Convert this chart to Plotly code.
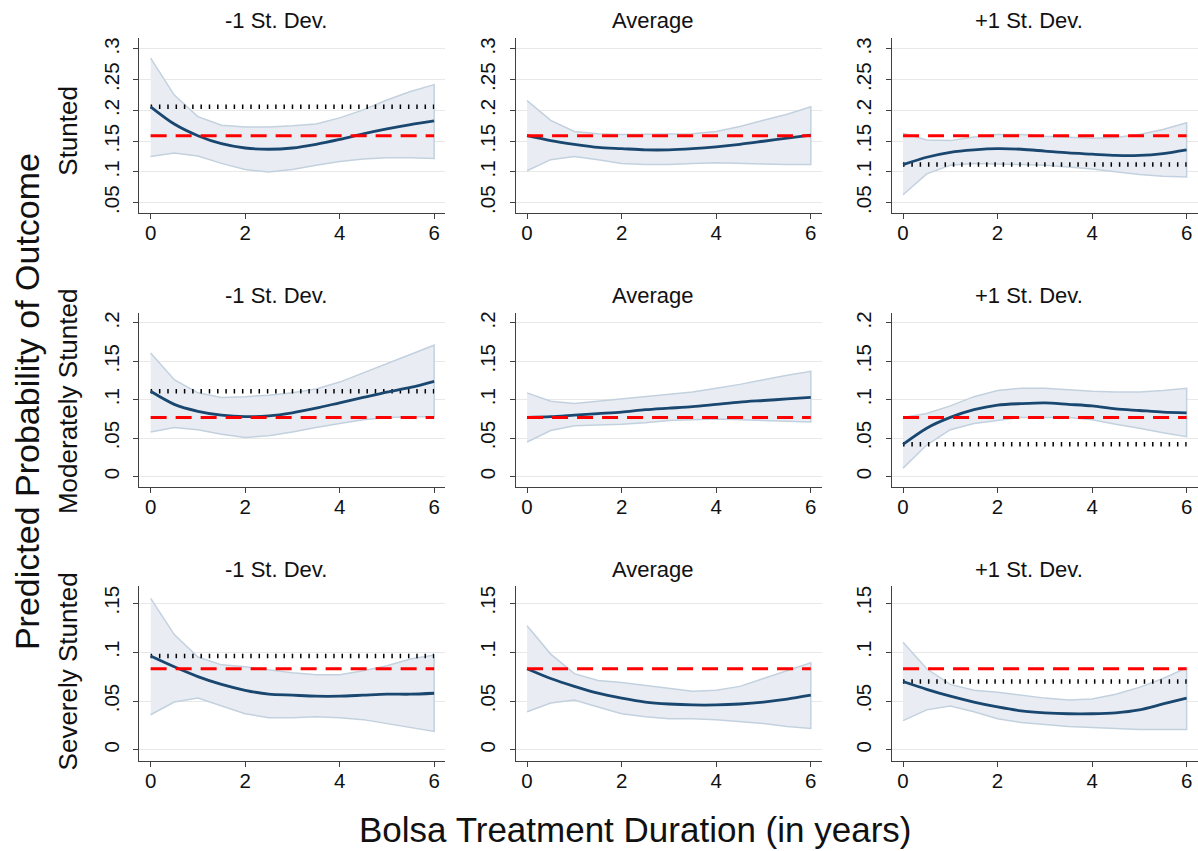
import plotly.graph_objects as go

# ---------------- data ----------------
years = [0, 0.5, 1, 1.5, 2, 2.5, 3, 3.5, 4, 4.5, 5, 5.5, 6]

row_labels = ["Stunted", "Moderately Stunted", "Severely Stunted"]
col_titles = ["-1 St. Dev.", "Average", "+1 St. Dev."]

# Stunted
stunted_m1_mid = [0.206, 0.178, 0.159, 0.146, 0.139, 0.137, 0.139, 0.145, 0.153, 0.162, 0.170, 0.177, 0.183]
stunted_m1_hi = [0.285, 0.225, 0.190, 0.176, 0.173, 0.173, 0.175, 0.178, 0.188, 0.201, 0.217, 0.231, 0.242]
stunted_m1_lo = [0.125, 0.131, 0.126, 0.114, 0.104, 0.100, 0.104, 0.111, 0.117, 0.121, 0.123, 0.123, 0.122]
stunted_av_mid = [0.159, 0.151, 0.145, 0.140, 0.138, 0.136, 0.136, 0.138, 0.141, 0.145, 0.150, 0.155, 0.160]
stunted_av_hi = [0.216, 0.184, 0.166, 0.162, 0.161, 0.161, 0.161, 0.162, 0.166, 0.174, 0.184, 0.194, 0.206]
stunted_av_lo = [0.102, 0.120, 0.125, 0.120, 0.114, 0.112, 0.112, 0.114, 0.115, 0.114, 0.113, 0.112, 0.112]
stunted_p1_mid = [0.112, 0.124, 0.132, 0.136, 0.138, 0.137, 0.134, 0.131, 0.129, 0.127, 0.127, 0.130, 0.136]
stunted_p1_hi = [0.163, 0.152, 0.151, 0.157, 0.161, 0.161, 0.158, 0.156, 0.155, 0.156, 0.161, 0.169, 0.180]
stunted_p1_lo = [0.063, 0.097, 0.111, 0.114, 0.113, 0.112, 0.111, 0.108, 0.105, 0.101, 0.096, 0.093, 0.092]

# Moderately stunted
moderate_m1_mid = [0.111, 0.094, 0.085, 0.080, 0.078, 0.079, 0.083, 0.089, 0.096, 0.103, 0.110, 0.116, 0.124]
moderate_m1_hi = [0.161, 0.126, 0.109, 0.103, 0.104, 0.106, 0.109, 0.114, 0.123, 0.135, 0.148, 0.160, 0.171]
moderate_m1_lo = [0.058, 0.064, 0.061, 0.055, 0.051, 0.053, 0.058, 0.064, 0.069, 0.074, 0.077, 0.078, 0.078]
moderate_av_mid = [0.077, 0.078, 0.080, 0.082, 0.084, 0.087, 0.089, 0.091, 0.094, 0.097, 0.099, 0.101, 0.103]
moderate_av_hi = [0.109, 0.098, 0.095, 0.098, 0.101, 0.104, 0.107, 0.110, 0.115, 0.120, 0.126, 0.132, 0.137]
moderate_av_lo = [0.045, 0.060, 0.066, 0.067, 0.068, 0.070, 0.073, 0.074, 0.075, 0.074, 0.073, 0.072, 0.071]
moderate_p1_mid = [0.042, 0.063, 0.077, 0.087, 0.093, 0.095, 0.096, 0.094, 0.092, 0.088, 0.086, 0.084, 0.083]
moderate_p1_hi = [0.077, 0.082, 0.092, 0.104, 0.112, 0.115, 0.115, 0.113, 0.111, 0.110, 0.110, 0.112, 0.115]
moderate_p1_lo = [0.011, 0.041, 0.061, 0.069, 0.073, 0.077, 0.077, 0.077, 0.074, 0.068, 0.063, 0.057, 0.052]

# Severely stunted
severe_m1_mid = [0.096, 0.085, 0.075, 0.067, 0.061, 0.057, 0.056, 0.055, 0.055, 0.056, 0.057, 0.057, 0.058]
severe_m1_hi = [0.155, 0.118, 0.095, 0.087, 0.085, 0.082, 0.079, 0.077, 0.077, 0.081, 0.086, 0.093, 0.097]
severe_m1_lo = [0.036, 0.049, 0.053, 0.045, 0.037, 0.033, 0.033, 0.034, 0.033, 0.031, 0.027, 0.023, 0.019]
severe_av_mid = [0.083, 0.073, 0.065, 0.058, 0.053, 0.049, 0.047, 0.046, 0.046, 0.047, 0.049, 0.052, 0.056]
severe_av_hi = [0.127, 0.098, 0.078, 0.071, 0.069, 0.066, 0.063, 0.060, 0.061, 0.065, 0.073, 0.081, 0.089]
severe_av_lo = [0.039, 0.048, 0.051, 0.044, 0.037, 0.034, 0.032, 0.032, 0.031, 0.029, 0.027, 0.024, 0.022]
severe_p1_mid = [0.070, 0.062, 0.055, 0.049, 0.044, 0.040, 0.038, 0.037, 0.037, 0.038, 0.041, 0.047, 0.053]
severe_p1_hi = [0.110, 0.083, 0.067, 0.061, 0.059, 0.056, 0.053, 0.051, 0.052, 0.057, 0.064, 0.073, 0.084]
severe_p1_lo = [0.030, 0.041, 0.045, 0.039, 0.032, 0.028, 0.026, 0.024, 0.023, 0.022, 0.021, 0.021, 0.021]

# reference lines: red dashed (overall) per outcome, black dotted (baseline at 0 years) per panel
red_ref = [0.159, 0.077, 0.083]
dotted_ref = [[0.206, None, 0.112],
              [0.111, None, 0.042],
              [0.096, None, 0.070]]

y_tickvals = [[0.05, 0.1, 0.15, 0.2, 0.25, 0.3],
              [0, 0.05, 0.1, 0.15, 0.2],
              [0, 0.05, 0.1, 0.15]]
y_ticktext = [[".05", ".1", ".15", ".2", ".25", ".3"],
              ["0", ".05", ".1", ".15", ".2"],
              ["0", ".05", ".1", ".15"]]
x_tickvals = [0, 2, 4, 6]

panels = [
    [(stunted_m1_mid, stunted_m1_lo, stunted_m1_hi), (stunted_av_mid, stunted_av_lo, stunted_av_hi), (stunted_p1_mid, stunted_p1_lo, stunted_p1_hi)],
    [(moderate_m1_mid, moderate_m1_lo, moderate_m1_hi), (moderate_av_mid, moderate_av_lo, moderate_av_hi), (moderate_p1_mid, moderate_p1_lo, moderate_p1_hi)],
    [(severe_m1_mid, severe_m1_lo, severe_m1_hi), (severe_av_mid, severe_av_lo, severe_av_hi), (severe_p1_mid, severe_p1_lo, severe_p1_hi)],
]

# ---------------- layout geometry ----------------
W, H = 1198, 851
col_px = [(139.3, 445.0), (515.7, 821.7), (891.7, 1197.5)]
row_px = [(37.0, 212.7), (312.3, 487.3), (586.7, 761.7)]
y_ranges = [[0.033, 0.318], [-0.0138, 0.2135], [-0.0112, 0.1673]]
x_range = [-0.24, 6.23]

FONT = "Liberation Sans, Arial, Helvetica, sans-serif"
NAVY = "#1a476f"
BAND_FILL = "#e9edf3"
BAND_LINE = "#c3d1df"
AXIS_COL = "#404040"
GRID_COL = "#e8e8e8"

fig = go.Figure()
layout = dict(
    width=W, height=H,
    margin=dict(l=0, r=0, t=0, b=0),
    paper_bgcolor="white", plot_bgcolor="white",
    showlegend=False,
    font=dict(family=FONT, color="#111111"),
)
annotations = []

for r in range(3):
    for c in range(3):
        k = r * 3 + c + 1
        xa = "x" if k == 1 else f"x{k}"
        ya = "y" if k == 1 else f"y{k}"
        mid, lo, hi = panels[r][c]

        # confidence band as closed polygon
        fig.add_trace(go.Scatter(
            x=years + years[::-1], y=hi + lo[::-1],
            fill="toself", fillcolor=BAND_FILL,
            line=dict(color=BAND_LINE, width=1.5),
            mode="lines", hoverinfo="skip", xaxis=xa, yaxis=ya))
        # dotted baseline
        if dotted_ref[r][c] is not None:
            fig.add_trace(go.Scatter(
                x=[years[0], years[-1]], y=[dotted_ref[r][c]] * 2,
                mode="lines", line=dict(color="black", width=4.5, dash="1.5px,6.8px"),
                hoverinfo="skip", xaxis=xa, yaxis=ya))
        # predicted line
        fig.add_trace(go.Scatter(
            x=years, y=mid, mode="lines",
            line=dict(color=NAVY, width=2.8, shape="spline", smoothing=0.8),
            xaxis=xa, yaxis=ya))
        # red dashed reference
        fig.add_trace(go.Scatter(
            x=[years[0], years[-1]], y=[red_ref[r]] * 2,
            mode="lines", line=dict(color="#ff0000", width=3, dash="16px,9px"),
            hoverinfo="skip", xaxis=xa, yaxis=ya))

        x0, x1 = col_px[c]
        y0, y1 = row_px[r]
        xkey = "xaxis" if k == 1 else f"xaxis{k}"
        ykey = "yaxis" if k == 1 else f"yaxis{k}"
        layout[xkey] = dict(
            domain=[x0 / W, x1 / W], anchor=ya, range=x_range,
            tickvals=x_tickvals, ticks="outside", ticklen=5, tickwidth=1,
            tickcolor=AXIS_COL, showline=True, linecolor=AXIS_COL, linewidth=1.2,
            showgrid=False, zeroline=False, ticklabelstandoff=-4,
            tickfont=dict(family=FONT, size=20.5, color="#111111"))
        layout[ykey] = dict(
            domain=[1 - y1 / H, 1 - y0 / H], anchor=xa, range=y_ranges[r],
            tickvals=y_tickvals[r], ticktext=y_ticktext[r], tickangle=-90,
            ticks="outside", ticklen=5, tickwidth=1, tickcolor=AXIS_COL,
            showline=True, linecolor=AXIS_COL, linewidth=1.2,
            showgrid=True, gridcolor=GRID_COL, gridwidth=1, zeroline=False,
            ticklabelstandoff=6,
            tickfont=dict(family=FONT, size=20.5, color="#111111"))

        # panel title (centred over the whole sub-graph, incl. tick labels)
        annotations.append(dict(
            text=col_titles[c], xref="paper", yref="paper",
            x=((x0 + x1) / 2 - 16) / W, y=1 - (y0 - 17) / H,
            xanchor="center", yanchor="middle", showarrow=False,
            font=dict(family=FONT, size=22, color="#111111")))

# row labels
row_label_centers = [130, 402, 672]
for r in range(3):
    annotations.append(dict(
        text=row_labels[r], xref="paper", yref="paper",
        x=68 / W, y=1 - row_label_centers[r] / H, textangle=-90,
        xanchor="center", yanchor="middle", showarrow=False,
        font=dict(family=FONT, size=26, color="#111111")))

# overall axis titles
annotations.append(dict(
    text="Predicted Probability of Outcome", xref="paper", yref="paper",
    x=27 / W, y=1 - 402 / H, textangle=-90, xanchor="center", yanchor="middle",
    showarrow=False, font=dict(family=FONT, size=34, color="#111111")))
annotations.append(dict(
    text="Bolsa Treatment Duration (in years)", xref="paper", yref="paper",
    x=635 / W, y=1 - 830 / H, xanchor="center", yanchor="middle",
    showarrow=False, font=dict(family=FONT, size=35, color="#111111")))

layout["annotations"] = annotations
fig.update_layout(**layout)
fig.write_html("out.html")
